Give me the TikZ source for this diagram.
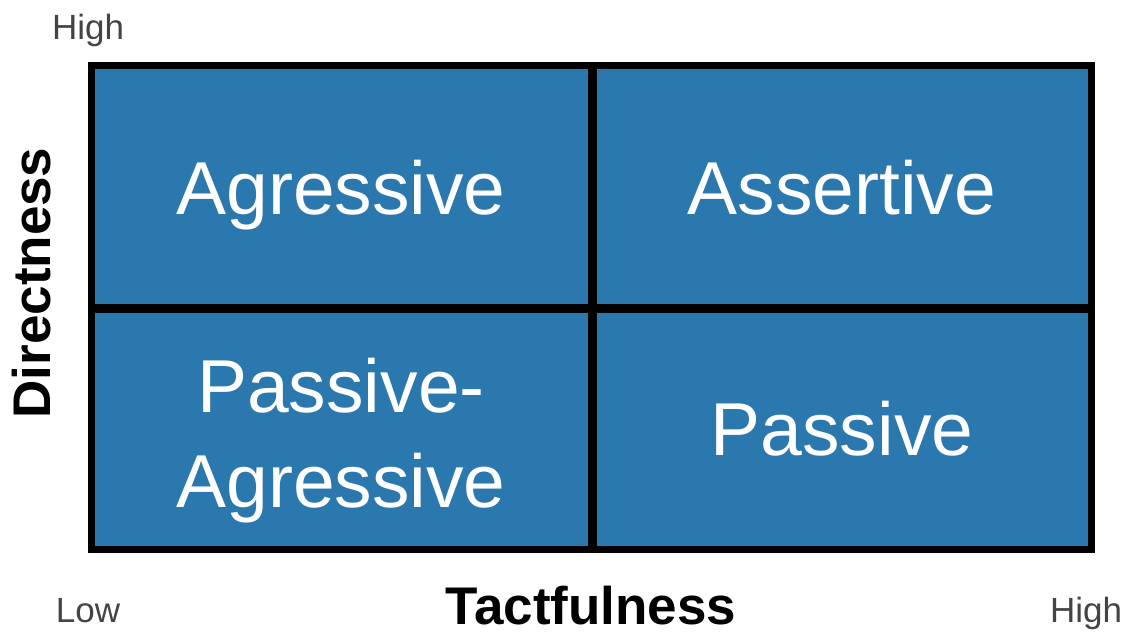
\documentclass[tikz,border=0pt]{standalone}
\usepackage{fontspec}
\setmainfont{Liberation Sans}
\definecolor{cellblue}{HTML}{2B78AE}
\definecolor{axisgray}{HTML}{444444}
\begin{document}
\begin{tikzpicture}[x=1pt,y=-1pt,
  celltext/.style={text=white,font=\fontsize{75}{95}\selectfont,align=center,inner sep=0pt,anchor=base},
  axistitle/.style={font=\bfseries\fontsize{53}{60}\selectfont,inner sep=0pt,anchor=base},
  ticklabel/.style={text=axisgray,font=\fontsize{35}{40}\selectfont,inner sep=0pt,anchor=base}]
  \useasboundingbox (0,0) rectangle (1130,633);
  % grid of four quadrants
  \fill[cellblue] (91.5,65.5) rectangle (1091.5,549.5);
  \draw[black,line width=9pt] (592.5,65.5) -- (592.5,549.5);
  \draw[black,line width=9pt] (91.5,308.5) -- (1091.5,308.5);
  \draw[black,line width=7pt] (91.5,65.5) rectangle (1091.5,549.5);
  % quadrant labels
  \node[celltext] (agr) at (341,214) {Agressive};
  \node[celltext] (ass) at (842,214) {Assertive};
  \node[celltext] (pag1) at (341,412) {Passive-};
  \node[celltext] (pag2) at (341,507) {Agressive};
  \node[celltext] (pas) at (842,455) {Passive};
  % axis titles and end labels
  \node[axistitle,rotate=90] (ytitle) at (50,283) {Directness};
  \node[axistitle] (xtitle) at (591,624) {Tactfulness};
  \node[ticklabel] (yhigh) at (88,39) {High};
  \node[ticklabel] (xlow) at (88,622) {Low};
  \node[ticklabel] (xhigh) at (1086,622) {High};
\end{tikzpicture}
\end{document}
